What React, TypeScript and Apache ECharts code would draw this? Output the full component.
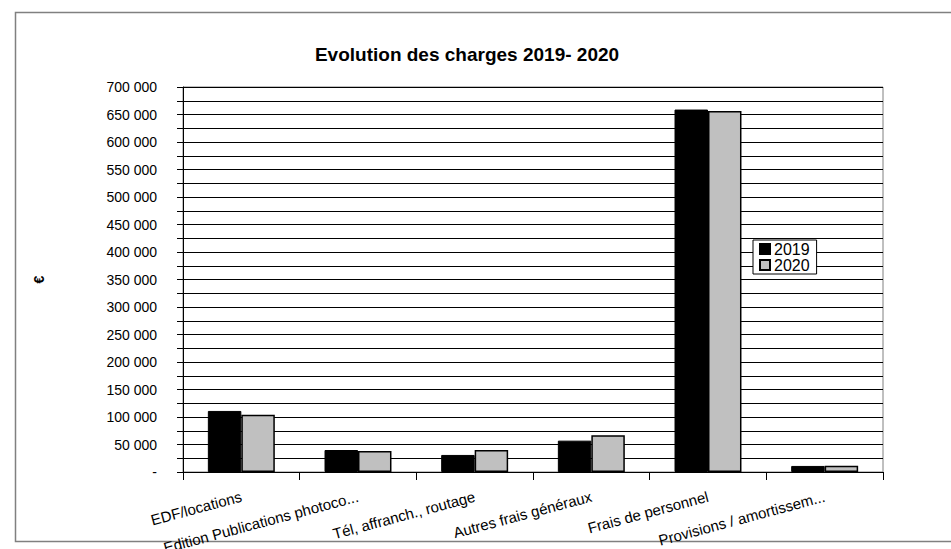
import React, { useEffect, useRef } from "react";
import * as echarts from "echarts";

const categories = [
  "EDF/locations",
  "Edition Publications photoco...",
  "Tél, affranch., routage",
  "Autres frais généraux",
  "Frais de personnel",
  "Provisions / amortissem...",
];
const values2019 = [111000, 40000, 31000, 57000, 659000, 11000];
const values2020 = [104000, 38000, 40000, 67000, 656500, 11500];
const seriesNames = ["2019", "2020"];
const chartTitle = "Evolution des charges 2019- 2020";
const yName = "€";

const FONT = "'Liberation Sans', Arial, sans-serif";

function fmt(v: number): string {
  if (v === 0) return "-";
  if (v % 50000 !== 0) return "";
  return String(v).replace(/\B(?=(\d{3})+(?!\d))/g, " ");
}

export default function App() {
  const ref = useRef<HTMLDivElement>(null);
  useEffect(() => {
    if (!ref.current) return;
    const chart = echarts.init(ref.current, undefined, { renderer: "svg" });
    chart.setOption({
      animation: false,
      backgroundColor: "#fff",
      textStyle: { fontFamily: FONT },
      title: {
        text: chartTitle,
        left: 462,
        textAlign: "center",
        top: 40,
        textStyle: { fontFamily: FONT, fontSize: 19, fontWeight: "bold", color: "#000" },
      },
      graphic: [
        {
          type: "rect",
          shape: { x: 15.5, y: 12.5, width: 1000, height: 529 },
          style: { fill: "none", stroke: "#808080", lineWidth: 1.5 },
          silent: true,
        },
      ],
      legend: {
        orient: "vertical",
        left: 753,
        top: 240,
        data: seriesNames,
        backgroundColor: "#fff",
        borderColor: "#000",
        borderWidth: 1,
        borderRadius: 0,
        padding: [1, 7, 1, 6],
        itemWidth: 10,
        itemHeight: 10,
        itemGap: 0,
        icon: "rect",
        textStyle: { fontFamily: FONT, fontSize: 16, color: "#000", padding: [0, 0, 0, -1] },
      },
      grid: {
        left: 183,
        top: 87,
        right: 68,
        bottom: 77,
        outerBoundsMode: "none",
        containLabel: false,
        show: true,
        borderColor: "#808080",
        borderWidth: 1,
        backgroundColor: "transparent",
      },
      xAxis: {
        type: "category",
        data: categories,
        axisLine: { lineStyle: { color: "#000", width: 1 } },
        axisTick: { show: true, length: 8, lineStyle: { color: "#000" } },
        axisLabel: {
          rotate: 15,
          interval: 0,
          margin: 24,
          fontFamily: FONT,
          fontSize: 15,
          color: "#000",
        },
      },
      yAxis: {
        type: "value",
        min: 0,
        max: 700000,
        interval: 25000,
        name: yName,
        nameLocation: "middle",
        nameGap: 137,
        nameRotate: 90,
        nameTextStyle: { fontFamily: FONT, fontSize: 14, fontWeight: "bold", color: "#000" },
        axisLine: { show: true, lineStyle: { color: "#000", width: 1 } },
        axisTick: { show: true, length: 6, lineStyle: { color: "#000" } },
        axisLabel: {
          formatter: fmt,
          margin: 26,
          fontFamily: FONT,
          fontSize: 14,
          color: "#000",
        },
        splitLine: { show: true, lineStyle: { color: "#000", width: 1 } },
      },
      series: [
        {
          name: seriesNames[0],
          type: "bar",
          data: values2019,
          barGap: "0%",
          barCategoryGap: "42.6%",
          itemStyle: { color: "#000", borderColor: "#000", borderWidth: 1 },
        },
        {
          name: seriesNames[1],
          type: "bar",
          data: values2020,
          itemStyle: { color: "#c0c0c0", borderColor: "#000", borderWidth: 1.5 },
        },
      ],
    });
    return () => chart.dispose();
  }, []);
  return (
    <div
      ref={ref}
      style={{ position: "absolute", left: 0, top: 0, width: 951, height: 549 }}
    />
  );
}
